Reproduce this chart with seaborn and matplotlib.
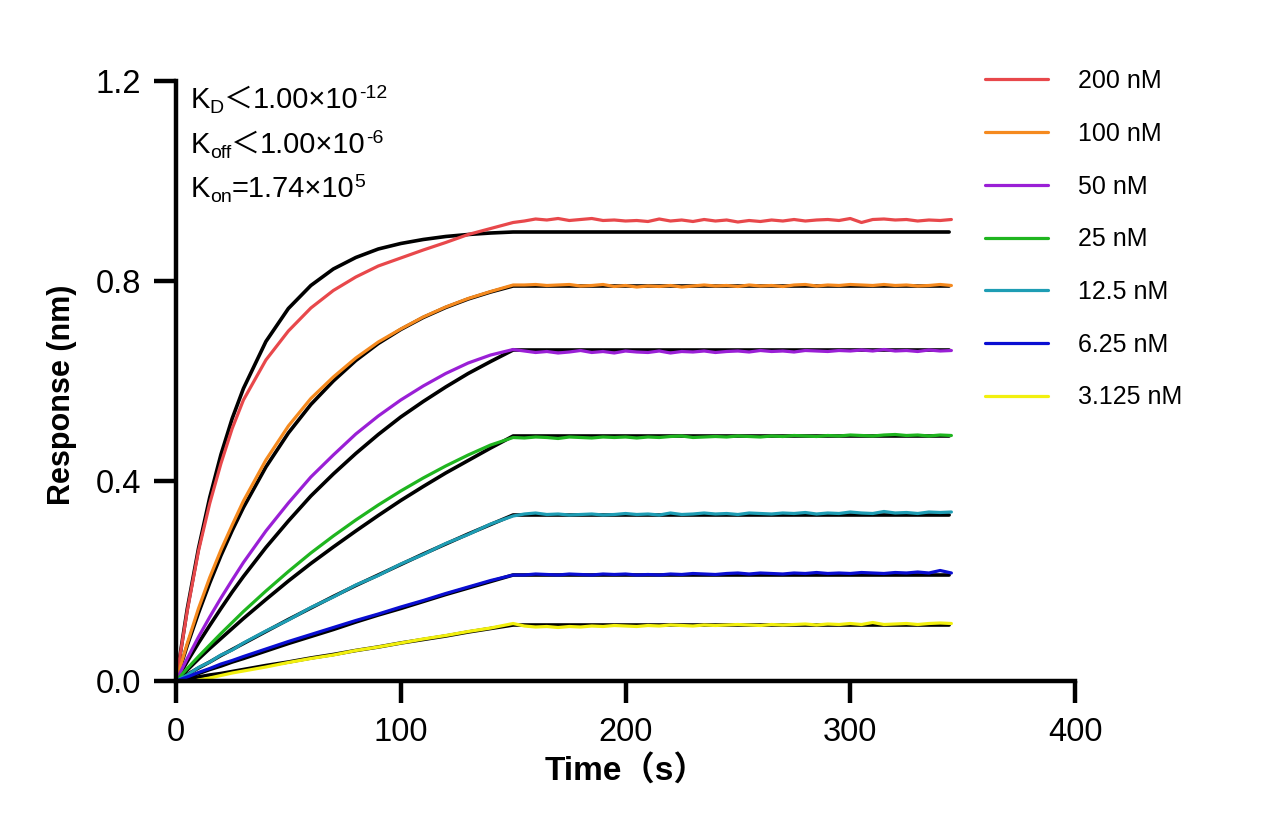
import numpy as np
import pandas as pd
import matplotlib
matplotlib.use("Agg")
import matplotlib.pyplot as plt
import seaborn as sns
from matplotlib.lines import Line2D
from matplotlib.transforms import offset_copy

# concentrations and colours
conc_labels = ["200 nM", "100 nM", "50 nM", "25 nM", "12.5 nM", "6.25 nM", "3.125 nM"]
conc_colors = ["#E8484B", "#F58A1F", "#9A1FD6", "#1FB51F", "#1E9DB4", "#0A0ED2", "#F2F00E"]

# fitted curves (black)
t_fit = [0, 5, 10, 15, 20, 25, 30, 40, 50, 60, 70, 80, 90, 100, 110, 120, 130, 140, 150, 344]
fit_200 = [0, 0.144, 0.265, 0.367, 0.453, 0.525, 0.585, 0.679, 0.745, 0.791, 0.824, 0.847, 0.864, 0.875, 0.883, 0.889, 0.893, 0.896, 0.898, 0.898]
fit_100 = [0, 0.071, 0.136, 0.196, 0.251, 0.301, 0.347, 0.428, 0.496, 0.553, 0.600, 0.641, 0.675, 0.703, 0.727, 0.747, 0.764, 0.778, 0.790, 0.790]
fit_50 = [0, 0.039, 0.076, 0.111, 0.145, 0.178, 0.209, 0.267, 0.320, 0.370, 0.414, 0.455, 0.493, 0.528, 0.559, 0.588, 0.615, 0.639, 0.662, 0.662]
fit_25 = [0, 0.022, 0.044, 0.065, 0.085, 0.105, 0.125, 0.163, 0.200, 0.235, 0.268, 0.300, 0.331, 0.361, 0.389, 0.416, 0.441, 0.466, 0.490, 0.490]
fit_12 = [0, 0.013, 0.026, 0.038, 0.051, 0.063, 0.075, 0.099, 0.123, 0.146, 0.169, 0.191, 0.212, 0.233, 0.254, 0.274, 0.294, 0.313, 0.332, 0.332]
fit_6 = [0, 0.008, 0.015, 0.023, 0.030, 0.038, 0.045, 0.060, 0.075, 0.089, 0.103, 0.118, 0.132, 0.145, 0.159, 0.173, 0.186, 0.199, 0.212, 0.212]
fit_3 = [0, 0.004, 0.008, 0.012, 0.015, 0.019, 0.023, 0.031, 0.038, 0.046, 0.053, 0.061, 0.068, 0.076, 0.083, 0.090, 0.098, 0.105, 0.112, 0.112]

# measured responses: association phase then dissociation phase
t_assoc = [0, 5, 10, 15, 20, 25, 30, 40, 50, 60, 70, 80, 90, 100, 110, 120, 130, 140, 150]
t_dissoc = list(range(155, 350, 5))

red_assoc = [0, 0.140, 0.260, 0.355, 0.435, 0.505, 0.562, 0.642, 0.700, 0.746, 0.781, 0.808, 0.830, 0.846, 0.862, 0.877, 0.893, 0.905, 0.917]
red_dissoc = [0.920, 0.924, 0.922, 0.925, 0.921, 0.923, 0.925, 0.921, 0.922, 0.920, 0.921, 0.919, 0.924, 0.920, 0.922, 0.919, 0.923, 0.920, 0.922, 0.918,
              0.921, 0.919, 0.922, 0.920, 0.923, 0.920, 0.922, 0.923, 0.921, 0.925, 0.917, 0.923, 0.924, 0.922, 0.923, 0.920, 0.922, 0.921, 0.923]
orange_assoc = [0, 0.075, 0.145, 0.207, 0.262, 0.312, 0.360, 0.442, 0.510, 0.565, 0.608, 0.646, 0.678, 0.704, 0.728, 0.748, 0.765, 0.779, 0.792]
orange_dissoc = [0.792, 0.793, 0.791, 0.792, 0.793, 0.790, 0.791, 0.793, 0.789, 0.791, 0.788, 0.790, 0.789, 0.791, 0.788, 0.790, 0.792, 0.790, 0.791, 0.789,
                 0.792, 0.790, 0.791, 0.789, 0.792, 0.793, 0.790, 0.792, 0.791, 0.793, 0.792, 0.791, 0.793, 0.791, 0.792, 0.790, 0.791, 0.793, 0.791]
purple_assoc = [0, 0.045, 0.088, 0.128, 0.166, 0.202, 0.237, 0.300, 0.356, 0.408, 0.452, 0.494, 0.530, 0.562, 0.590, 0.615, 0.636, 0.652, 0.663]
purple_dissoc = [0.660, 0.657, 0.659, 0.656, 0.658, 0.661, 0.657, 0.659, 0.656, 0.660, 0.658, 0.657, 0.660, 0.656, 0.659, 0.658, 0.660, 0.657, 0.659, 0.660,
                 0.658, 0.661, 0.659, 0.660, 0.658, 0.661, 0.660, 0.659, 0.661, 0.660, 0.662, 0.660, 0.663, 0.660, 0.661, 0.659, 0.662, 0.660, 0.661]
green_assoc = [0, 0.025, 0.049, 0.072, 0.095, 0.117, 0.139, 0.180, 0.219, 0.256, 0.290, 0.322, 0.352, 0.380, 0.406, 0.430, 0.452, 0.472, 0.487]
green_dissoc = [0.486, 0.488, 0.487, 0.485, 0.488, 0.487, 0.486, 0.488, 0.487, 0.488, 0.486, 0.488, 0.487, 0.489, 0.490, 0.487, 0.488, 0.489, 0.488, 0.490,
                0.489, 0.488, 0.490, 0.489, 0.491, 0.490, 0.489, 0.491, 0.490, 0.492, 0.491, 0.490, 0.492, 0.493, 0.491, 0.492, 0.490, 0.492, 0.491]
cyan_assoc = [0, 0.012, 0.027, 0.038, 0.052, 0.062, 0.076, 0.100, 0.122, 0.147, 0.168, 0.192, 0.211, 0.234, 0.253, 0.275, 0.293, 0.314, 0.330]
cyan_dissoc = [0.334, 0.336, 0.333, 0.334, 0.332, 0.333, 0.334, 0.332, 0.333, 0.335, 0.333, 0.334, 0.332, 0.336, 0.333, 0.334, 0.336, 0.334, 0.335, 0.333,
               0.336, 0.335, 0.334, 0.336, 0.335, 0.337, 0.334, 0.336, 0.335, 0.338, 0.336, 0.335, 0.339, 0.336, 0.337, 0.335, 0.338, 0.337, 0.338]
blue_assoc = [0, 0.008, 0.017, 0.025, 0.034, 0.041, 0.049, 0.064, 0.079, 0.093, 0.107, 0.121, 0.134, 0.148, 0.161, 0.175, 0.188, 0.201, 0.212]
blue_dissoc = [0.212, 0.214, 0.213, 0.212, 0.214, 0.213, 0.212, 0.214, 0.213, 0.214, 0.212, 0.213, 0.212, 0.214, 0.213, 0.215, 0.214, 0.213, 0.215, 0.216,
               0.214, 0.216, 0.215, 0.214, 0.216, 0.215, 0.217, 0.215, 0.216, 0.215, 0.217, 0.216, 0.215, 0.217, 0.216, 0.218, 0.216, 0.221, 0.216]
yellow_assoc = [0, -0.004, 0.002, 0.006, 0.011, 0.016, 0.020, 0.028, 0.037, 0.045, 0.052, 0.061, 0.068, 0.076, 0.084, 0.091, 0.099, 0.106, 0.115]
yellow_dissoc = [0.110, 0.108, 0.109, 0.107, 0.109, 0.108, 0.110, 0.109, 0.111, 0.110, 0.109, 0.111, 0.110, 0.112, 0.111, 0.110, 0.112, 0.111, 0.112, 0.113,
                 0.112, 0.111, 0.113, 0.112, 0.113, 0.114, 0.112, 0.114, 0.113, 0.115, 0.113, 0.117, 0.113, 0.114, 0.115, 0.113, 0.115, 0.116, 0.115]

fits = [fit_200, fit_100, fit_50, fit_25, fit_12, fit_6, fit_3]
measured = [red_assoc + red_dissoc, orange_assoc + orange_dissoc, purple_assoc + purple_dissoc,
            green_assoc + green_dissoc, cyan_assoc + cyan_dissoc, blue_assoc + blue_dissoc,
            yellow_assoc + yellow_dissoc]
t_meas = t_assoc + t_dissoc

fit_df = pd.concat([pd.DataFrame({"t": t_fit, "r": f, "conc": lab}) for f, lab in zip(fits, conc_labels)])
meas_df = pd.concat([pd.DataFrame({"t": t_meas, "r": m, "conc": lab}) for m, lab in zip(measured, conc_labels)])

sns.set_style("ticks")
plt.rcParams["font.family"] = ["Liberation Sans", "Noto Sans CJK SC", "DejaVu Sans"]
plt.rcParams.update({"text.color": "black", "axes.labelcolor": "black", "axes.edgecolor": "black",
                     "xtick.color": "black", "ytick.color": "black"})

fig = plt.figure(figsize=(12.88, 8.34), dpi=100)
ax = fig.add_axes([176 / 1288, 153 / 834, 899 / 1288, 600 / 834])

sns.lineplot(data=fit_df, x="t", y="r", units="conc", estimator=None, color="black",
             lw=2.6, sort=False, ax=ax, legend=False)
sns.lineplot(data=meas_df, x="t", y="r", hue="conc", hue_order=conc_labels, palette=conc_colors,
             estimator=None, lw=2.3, sort=False, ax=ax, legend=False)

ax.set_xlim(0, 400)
ax.set_ylim(0, 1.2)
ax.set_xticks([0, 100, 200, 300, 400])
ax.set_yticks([0.0, 0.4, 0.8, 1.2])
ax.set_yticklabels(["0.0", "0.4", "0.8", "1.2"])
sns.despine(ax=ax)
for s in ["left", "bottom"]:
    ax.spines[s].set_linewidth(3.2)
ax.tick_params(width=3.2, length=16, labelsize=23.5)
ax.tick_params(axis="x", pad=10)
ax.tick_params(axis="y", pad=9)
ax.set_xlabel("Time（s）", fontsize=24, fontweight="bold", labelpad=5)
ax.set_ylabel("Response (nm)", fontsize=22, fontweight="bold")
ax.yaxis.set_label_coords(-0.110, 0.477)

# legend
handles = [Line2D([], [], color=c, lw=2.3) for c in conc_colors]
fig.legend(handles, conc_labels, loc="upper left", bbox_to_anchor=(985 / 1288, 1 - 69 / 834),
           frameon=False, fontsize=18, handlelength=2.5, handletextpad=1.2,
           labelspacing=1.15, borderpad=0, borderaxespad=0)

# kinetic constants, built from pieces (sub/superscripts)
renderer = fig.canvas.get_renderer()


def put_runs(x, y, runs):
    dx = 0.0
    for txt, size, dy in runs:
        tr = offset_copy(ax.transAxes, fig=fig, x=dx, y=dy, units="points")
        t = ax.text(x, y, txt, fontsize=size, transform=tr, va="baseline", ha="left")
        dx += t.get_window_extent(renderer).width * 72 / fig.dpi


put_runs(0.016, 1 - 27 / 600, [("K", 21, 0), ("D", 14, -3.6), ("＜", 21, 0),
                               ("1.00×10", 21, 0), ("-12", 14, 7.5)])
put_runs(0.016, 1 - 72 / 600, [("K", 21, 0), ("off", 14, -3.6), ("＜", 21, 0),
                               ("1.00×10", 21, 0), ("-6", 14, 7.5)])
put_runs(0.016, 1 - 116 / 600, [("K", 21, 0), ("on", 14, -3.6), ("=1.74×10", 21, 0),
                                ("5", 14, 7.5)])

fig.savefig("out.png", dpi=100)
